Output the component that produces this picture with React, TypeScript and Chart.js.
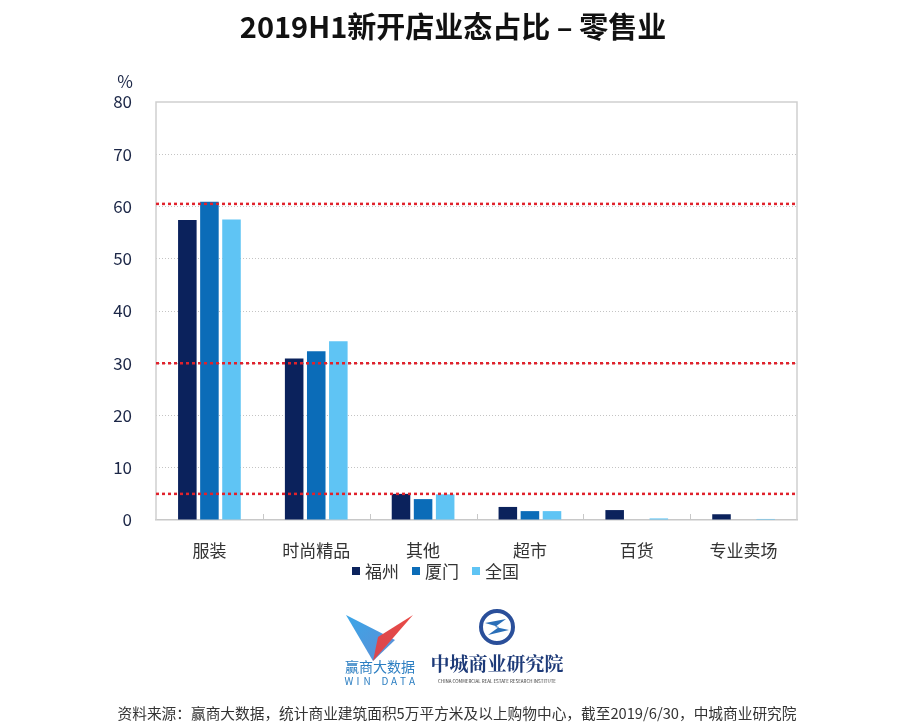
import React, { useEffect, useRef } from "react";
import { Chart, registerables } from "chart.js";

Chart.register(...registerables);

const categories = ["服装", "时尚精品", "其他", "超市", "百货", "专业卖场"];
const seriesNames = ["福州", "厦门", "全国"];
const fuzhou = [57.4, 30.9, 5.0, 2.5, 1.9, 1.1];
const xiamen = [60.9, 32.3, 4.0, 1.7, 0, 0];
const quanguo = [57.5, 34.2, 4.9, 1.7, 0.3, 0.2];
const seriesColors = ["#0b225c", "#0b6cb8", "#5fc4f4"];
const yTicks = [0, 10, 20, 30, 40, 50, 60, 70, 80];
const refLines = [60.5, 30, 5];
const titleText = "2019H1新开店业态占比 – 零售业";
const sourceText = "资料来源：赢商大数据，统计商业建筑面积5万平方米及以上购物中心，截至2019/6/30，中城商业研究院";

const CJK = '"Noto Sans CJK SC", "Noto Sans", sans-serif';

const decorPlugin = {
  id: "decor",
  afterDatasetsDraw(chart: any) {
    const { ctx, chartArea, scales } = chart;
    const y = scales.y;
    ctx.save();
    ctx.strokeStyle = "#cfcfcf";
    ctx.lineWidth = 1.5;
    ctx.setLineDash([]);
    ctx.beginPath();
    ctx.moveTo(chartArea.left, chartArea.bottom);
    ctx.lineTo(chartArea.left, chartArea.top);
    ctx.lineTo(chartArea.right, chartArea.top);
    ctx.lineTo(chartArea.right, chartArea.bottom);
    ctx.stroke();
    const n = categories.length;
    const w = (chartArea.right - chartArea.left) / n;
    ctx.strokeStyle = "#c8c8c8";
    ctx.lineWidth = 1;
    for (let i = 1; i < n; i++) {
      const x = Math.round(chartArea.left + i * w) + 0.5;
      ctx.beginPath();
      ctx.moveTo(x, chartArea.bottom - 6);
      ctx.lineTo(x, chartArea.bottom);
      ctx.stroke();
    }
    ctx.strokeStyle = "#e0222c";
    ctx.lineWidth = 2.5;
    ctx.setLineDash([3, 3]);
    refLines.forEach((v) => {
      const py = y.getPixelForValue(v);
      ctx.beginPath();
      ctx.moveTo(chartArea.left, py);
      ctx.lineTo(chartArea.right, py);
      ctx.stroke();
    });
    ctx.restore();
  },
  afterDraw(chart: any) {
    const { ctx } = chart;
    ctx.save();
    ctx.fillStyle = "#111";
    ctx.font = `bold 29px ${CJK}`;
    ctx.textAlign = "center";
    ctx.textBaseline = "middle";
    ctx.fillText(titleText, 453, 27);
    ctx.fillStyle = "#1c2747";
    ctx.font = `17px ${CJK}`;
    ctx.fillText("%", 125, 82);
    const legendX = [352, 412, 472];
    ctx.textAlign = "left";
    ctx.font = `17px ${CJK}`;
    seriesNames.forEach((name, i) => {
      ctx.fillStyle = seriesColors[i];
      ctx.fillRect(legendX[i], 567, 8, 8);
      ctx.fillStyle = "#333";
      ctx.fillText(name, legendX[i] + 13, 572);
    });
    // WIN DATA logo
    ctx.beginPath();
    ctx.moveTo(346, 615);
    ctx.lineTo(395, 640);
    ctx.lineTo(373, 661);
    ctx.closePath();
    const g1 = ctx.createLinearGradient(346, 615, 390, 660);
    g1.addColorStop(0, "#3aa6e8");
    g1.addColorStop(1, "#5c8fd6");
    ctx.fillStyle = g1;
    ctx.fill();
    ctx.beginPath();
    ctx.moveTo(413, 615);
    ctx.lineTo(373, 661);
    ctx.lineTo(378, 637);
    ctx.closePath();
    const g2 = ctx.createLinearGradient(413, 615, 373, 660);
    g2.addColorStop(0, "#e94a45");
    g2.addColorStop(1, "#d9464f");
    ctx.fillStyle = g2;
    ctx.fill();
    ctx.fillStyle = "#2d7fc2";
    ctx.font = `14px ${CJK}`;
    ctx.textAlign = "center";
    ctx.fillText("赢商大数据", 380, 667);
    ctx.font = `10px ${CJK}`;
    const wd = "WIN DATA".split("");
    wd.forEach((c, i) => ctx.fillText(c, 349 + i * 9, 681));
    // 中城 logo
    ctx.strokeStyle = "#2a4f9a";
    ctx.lineWidth = 4;
    ctx.beginPath();
    ctx.arc(497, 627, 16, 0, Math.PI * 2);
    ctx.stroke();
    ctx.fillStyle = "#2a6fb8";
    ctx.beginPath();
    ctx.moveTo(485, 623);
    ctx.lineTo(506, 619);
    ctx.lineTo(495, 627);
    ctx.lineTo(509, 630);
    ctx.lineTo(488, 635);
    ctx.lineTo(499, 627);
    ctx.closePath();
    ctx.fill();
    ctx.fillStyle = "#1d3a78";
    ctx.font = `bold 19px "Noto Serif CJK SC", "Noto Sans CJK SC", serif`;
    ctx.fillText("中城商业研究院", 497, 664);
    ctx.font = `4.5px ${CJK}`;
    ctx.fillStyle = "#333";
    ctx.fillText("CHINA COMMERCIAL REAL ESTATE RESEARCH INSTITUTE", 497, 681);
    // footer
    ctx.fillStyle = "#333";
    ctx.font = `14.7px ${CJK}`;
    ctx.fillText(sourceText, 457, 713);
    ctx.restore();
  },
};

export default function App() {
  const ref = useRef<HTMLCanvasElement | null>(null);
  useEffect(() => {
    if (!ref.current) return;
    const values = [fuzhou, xiamen, quanguo];
    const chart = new Chart(ref.current, {
      type: "bar",
      data: {
        labels: categories,
        datasets: seriesNames.map((name, i) => ({
          label: name,
          data: values[i],
          backgroundColor: seriesColors[i],
          borderWidth: 0,
          barPercentage: 0.84,
          categoryPercentage: 0.62,
        })),
      },
      options: {
        responsive: false,
        animation: false,
        devicePixelRatio: 1,
        layout: { padding: { left: 20, right: 111, top: 102, bottom: 144 } },
        plugins: {
          legend: { display: false },
          title: { display: false },
          tooltip: { enabled: false },
        },
        scales: {
          x: {
            grid: { display: false },
            border: { display: true, color: "#c8c8c8", width: 1.5 },
            ticks: {
              color: "#333",
              font: { family: CJK, size: 17 },
              padding: 12,
              maxRotation: 0,
            },
            afterFit: (s: any) => {
              s.height = 60;
            },
          },
          y: {
            min: 0,
            max: 80,
            afterBuildTicks: (s: any) => {
              s.ticks = yTicks.map((v) => ({ value: v }));
            },
            grid: {
              color: (c: any) => (c.tick && (c.tick.value === 0 || c.tick.value === 80) ? "rgba(0,0,0,0)" : "#c4c4c4"),
              lineWidth: 1,
              drawTicks: false,
            },
            border: { display: false, dash: [1, 2] },
            ticks: {
              color: "#1c2747",
              font: { family: CJK, size: 17 },
              padding: 24,
            },
            afterFit: (s: any) => {
              s.width = 136;
            },
          },
        },
      },
      plugins: [decorPlugin],
    } as any);
    return () => chart.destroy();
  }, []);
  return (
    <div style={{ position: "fixed", left: 0, top: 0, width: 908, height: 724, background: "#fff" }}>
      <canvas ref={ref} width={908} height={724} style={{ width: 908, height: 724, display: "block" }} />
    </div>
  );
}
